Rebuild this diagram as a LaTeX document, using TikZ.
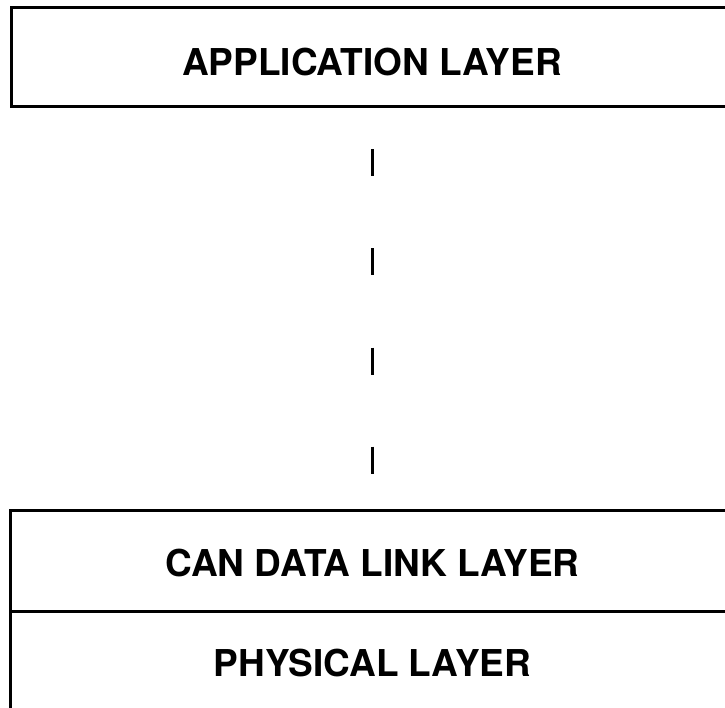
\documentclass[tikz,border=0pt]{standalone}
\usepackage{fontspec}
\setmainfont{TeX Gyre Heros}
\tikzset{
  layerbox/.style={draw=black, line width=3pt, rectangle, inner sep=0pt, outer sep=0pt},
  layertext/.style={font=\fontsize{37}{41}\selectfont\bfseries, inner sep=0pt, anchor=center},
  linkline/.style={draw=black, line width=3pt, dash pattern=on 27pt off 72pt, dash phase=56pt}
}
\begin{document}
\begin{tikzpicture}[x=1pt,y=-1pt]
  \useasboundingbox (0,0) rectangle (725,708);
  \clip (0,0) rectangle (725,708);
  \fill[white] (0,0) rectangle (725,708);
  % boxes
  \node[layerbox, minimum width=788.5pt, minimum height=99pt] (appbox) at (405.75,57) {};
  \node[layerbox, minimum width=789.5pt, minimum height=100.5pt] (canbox) at (405.25,560.75) {};
  \node[layerbox, minimum width=789.5pt, minimum height=189pt] (phybox) at (405.25,705.5) {};
  % texts
  \node[layertext] (apptext) at (372,62.5) {APPLICATION LAYER};
  \node[layertext] (cantext) at (372.5,563) {CAN DATA LINK LAYER};
  \node[layertext] (phytext) at (372.5,663) {PHYSICAL LAYER};
  % connector
  \draw[linkline] (apptext |- appbox.south) -- (apptext |- canbox.north);
\end{tikzpicture}
\end{document}
